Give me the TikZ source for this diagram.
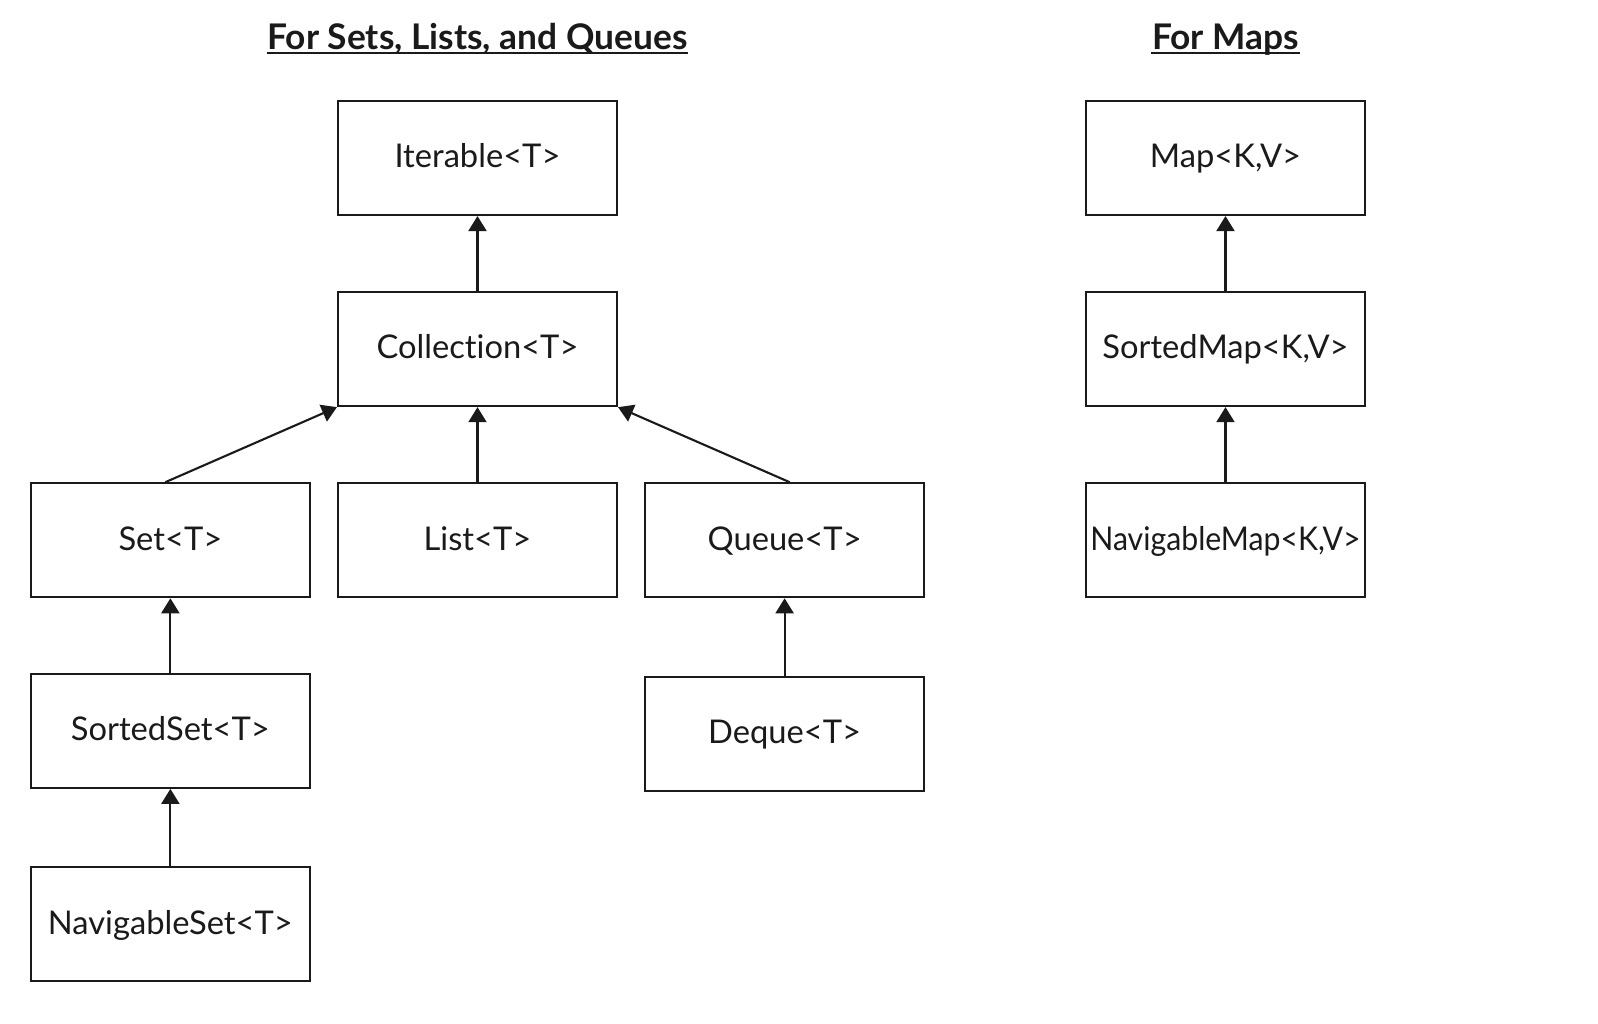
\documentclass[tikz,border=0pt]{standalone}
\usepackage{fontspec}
\setmainfont{Lato}[Ligatures=NoCommon]
\usepackage{graphicx}
\usepackage{tikz}
\usetikzlibrary{arrows.meta,positioning}
\definecolor{inkdark}{RGB}{26,26,26}

\tikzset{
  ifacebox/.style={draw=inkdark,line width=0.6pt,minimum width=2.79cm,
    minimum height=1.14cm,inner sep=0pt,text=inkdark,
    text height=0.78em,text depth=0.22em,
    font=\fontsize{9.3}{11}\selectfont},
  extends/.style={-{Triangle[width=0.18cm,length=0.15cm]},draw=inkdark,
    line width=0.6pt},
  grouptitle/.style={font=\fontsize{10.05}{12}\selectfont\bfseries,text=inkdark,
    inner sep=0pt,anchor=base},
  titlerule/.style={draw=inkdark,line width=0.6pt}
}

\begin{document}
\begin{tikzpicture}[node distance=0.75cm and 0.26cm]

%% ── page frame ───────────────────────────────────────────────────────────────
\useasboundingbox (0,0) rectangle (15.98,-10.24);

%% ── group titles ─────────────────────────────────────────────────────────────
\node[grouptitle] (titleCol) at (4.775,-0.49) {For Sets, Lists, and Queues};
\node[grouptitle] (titleMap) at (12.255,-0.49) {For Maps};
\draw[titlerule] ([yshift=-0.04cm]titleCol.base west) -- ([yshift=-0.04cm]titleCol.base east);
\draw[titlerule] ([yshift=-0.04cm]titleMap.base west) -- ([yshift=-0.04cm]titleMap.base east);

%% ════════════════════════════════════════════════════════════════════════════
%%  COLLECTION HIERARCHY
%% ════════════════════════════════════════════════════════════════════════════
\node[ifacebox] (iter) at (4.775,-1.58) {Iterable<T>};
\node[ifacebox,below=of iter] (coll) {Collection<T>};
\node[ifacebox,below=of coll] (list) {List<T>};
\node[ifacebox,left=of list] (set) {Set<T>};
\node[ifacebox,right=of list] (queue) {Queue<T>};
\node[ifacebox,below=0.745cm of set] (sset) {SortedSet<T>};
\node[ifacebox,below=0.775cm of sset] (nset) {NavigableSet<T>};
\node[ifacebox,below=0.775cm of queue] (deque) {Deque<T>};

%% ── inheritance arrows ──────────────────────────────────────────────────────
\draw[extends] (coll) -- (iter);
\draw[extends] ([xshift=-0.05cm]set.north) -- (coll.south west);
\draw[extends] (list) -- (coll);
\draw[extends] ([xshift=0.05cm]queue.north) -- (coll.south east);
\draw[extends] (sset) -- (set);
\draw[extends] (nset) -- (sset);
\draw[extends] (deque) -- (queue);

%% ════════════════════════════════════════════════════════════════════════════
%%  MAP HIERARCHY
%% ════════════════════════════════════════════════════════════════════════════
\node[ifacebox] (map) at (12.255,-1.58) {Map<K,V>};
\node[ifacebox,below=of map] (smap) {SortedMap<K,V>};
\node[ifacebox,below=of smap] (nmap) {\scalebox{0.925}[1]{NavigableMap<K,V>}};

\draw[extends] (smap) -- (map);
\draw[extends] (nmap) -- (smap);

\end{tikzpicture}
\end{document}
